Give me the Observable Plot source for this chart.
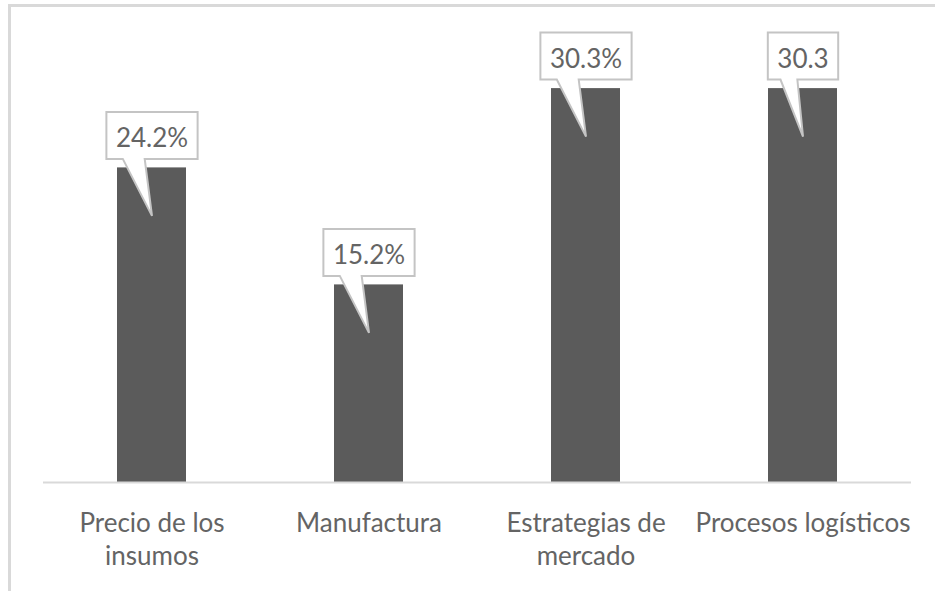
<!DOCTYPE html>
<html>
<head>
<meta charset="utf-8">
<script src="https://cdn.jsdelivr.net/npm/d3@7"></script>
<script src="https://cdn.jsdelivr.net/npm/@observablehq/plot@0.6"></script>
<style>
  html, body { margin: 0; padding: 0; background: #fff; }
  #chart { position: relative; width: 935px; height: 591px; overflow: hidden; }
  #chart svg { display: block; }
  /* chart-area border, open on the right and bottom */
  #chart .edge {
    position: absolute; left: 8px; top: 4px; right: -10px; bottom: -10px;
    border-left: 3px solid #d9d9d9; border-top: 3px solid #d9d9d9;
    pointer-events: none;
  }
</style>
</head>
<body>
<div id="chart"><div class="edge"></div></div>
<script>
// Categories and their shares (%)
const categories = ["Precio de los insumos", "Manufactura", "Estrategias de mercado", "Procesos logísticos"];
const tickLabels = ["Precio de los\ninsumos", "Manufactura", "Estrategias de\nmercado", "Procesos logísticos"];
const shares = [24.2, 15.2, 30.3, 30.3];
const valueLabels = ["24.2%", "15.2%", "30.3%", "30.3"];

const FONT = "Lato, 'Open Sans', sans-serif";
const FS = 26;
const TEXT = "#646464";

const rows = categories.map((c, i) => ({category: c, share: shares[i], label: valueLabels[i]}));

// measure label text to size each callout box
const ctx = document.createElement("canvas").getContext("2d");
ctx.font = `${FS}px Lato`;

// speech-bubble callout anchored at the top of the bar, pointer dipping into the bar
function callout(w) {
  return {
    draw(p) {
      const h = w / 2;
      p.moveTo(-h, -56);
      p.lineTo(h, -56);
      p.lineTo(h, -9);
      p.lineTo(-0.08 * w, -9);
      p.lineTo(0, 48);
      p.lineTo(-0.32 * w, -9);
      p.lineTo(-h, -9);
      p.closePath();
    }
  };
}

const calloutMarks = rows.map(d =>
  Plot.dot([d], {
    x: "category",
    y: "share",
    symbol: callout(ctx.measureText(d.label).width + 19),
    fill: "white",
    stroke: "#c4c4c4",
    strokeWidth: 2
  })
);

const chart = Plot.plot({
  width: 935,
  height: 591,
  marginLeft: 43,
  marginRight: 24,
  marginTop: 27,
  marginBottom: 109,
  style: {fontFamily: FONT, fontSize: FS + "px", color: TEXT, background: "transparent"},
  x: {domain: categories, paddingInner: 0.68, paddingOuter: 0.34, label: null},
  y: {domain: [0, 35], axis: null},
  marks: [
    Plot.barY(rows, {x: "category", y: "share", fill: "#5b5b5b"}),
    Plot.ruleY([0], {stroke: "#d9d9d9", strokeWidth: 2}),
    ...calloutMarks,
    Plot.text(rows, {x: "category", y: "share", text: "label", dy: -21, lineAnchor: "bottom", fontSize: FS, fill: TEXT}),
    Plot.axisX({
      tickSize: 0,
      tickPadding: 25,
      tickFormat: c => tickLabels[categories.indexOf(c)],
      fontSize: FS,
      lineHeight: 1.3,
      label: null
    })
  ]
});

document.getElementById("chart").prepend(chart);
</script>
</body>
</html>
